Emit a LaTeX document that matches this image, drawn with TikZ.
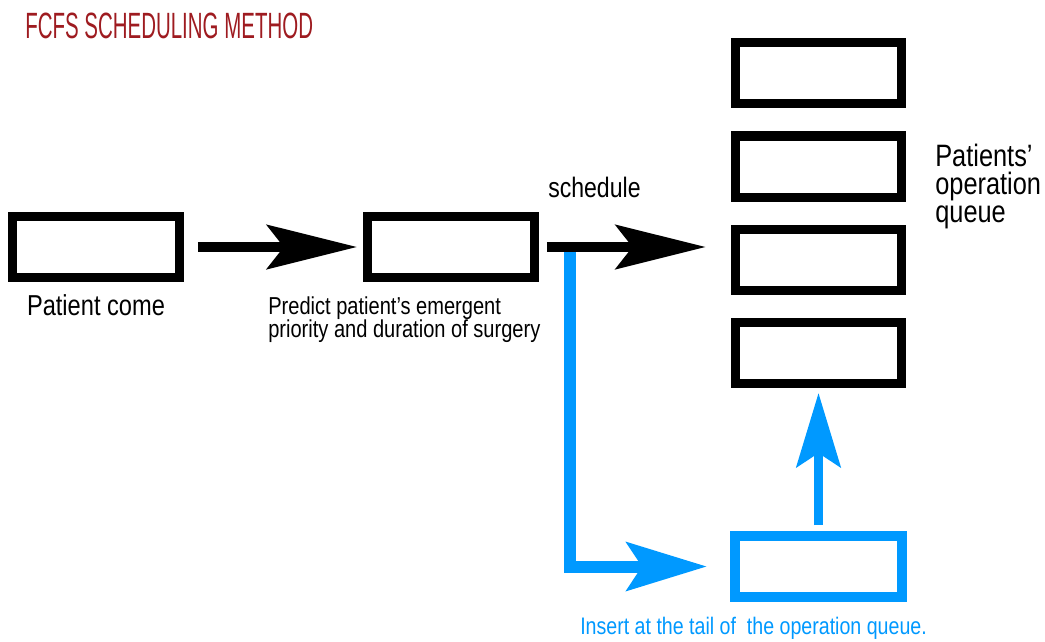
\documentclass[tikz,border=0pt]{standalone}
\usepackage{fontspec}
\setmainfont{Liberation Sans}[FakeStretch=0.82]
\newfontfamily\titlefont{Liberation Sans}[FakeStretch=0.56]
\usetikzlibrary{arrows.meta,positioning}
\definecolor{titlered}{RGB}{158,27,32}
\definecolor{qblue}{RGB}{0,153,255}
\tikzset{
	qbox/.style={draw, line width=0.225cm, minimum width=4.15cm, minimum height=1.525cm, inner sep=0pt},
	blackarrow/.style={line width=0.25cm, -{Stealth[length=2.25cm,width=1.1cm,inset=0.42cm]}},
	bluearrow/.style={qblue, line width=0.3cm, -{Stealth[length=2cm,width=1.2cm,inset=0.38cm]}}
}
\begin{document}
\begin{tikzpicture}[x=0.025cm, y=-0.025cm]
			\useasboundingbox (0,0) rectangle (1045,641);
			\node[anchor=west, inner sep=0pt, text=titlered, font=\titlefont\fontsize{26}{28}\selectfont] (title) at (25,26) {FCFS SCHEDULING METHOD};
			\node[qbox] (arrive) at (96,247) {};
			\node[qbox] (predict) at (451,247) {};
			\foreach \i/\y in {1/73,2/166.5,3/259.5,4/353}
			\node[qbox] (q\i) at (818.5,\y) {};
			\node[qbox, draw=qblue, line width=0.25cm] (tail) at (818.5,566.5) {};
			\node[below=0.32cm of arrive, inner sep=0pt, font=\fontsize{20.5}{24}\selectfont] (arrivetext) {Patient come};
			\node[anchor=north west, inner sep=0pt, align=left, font=\fontsize{17.4}{16.5}\selectfont] (predicttext) at (268,296) {Predict patient's emergent\\priority and duration of surgery};
			\node[anchor=base west, inner sep=0pt, font=\fontsize{20}{24}\selectfont] (schedtext) at (548,197) {schedule};
			\node[anchor=north west, inner sep=0pt, align=left, font=\fontsize{22}{20}\selectfont] (queuetext) at (935,144) {Patients'\\operation\\queue};
			\node[anchor=north west, inner sep=0pt, text=qblue, font=\fontsize{17}{20}\selectfont] (tailtext) at (580,617) {Insert at the tail of\ \ the operation queue.};
			\coordinate (split) at (570,249);
			\draw[bluearrow, shorten >=0.59cm] (split) |- (tail.west);
			\draw[bluearrow, line width=0.225cm, -{Stealth[length=1.85cm,width=1.1cm,inset=0.35cm]}, shorten <=0.15cm, shorten >=0.125cm] (tail) -- (q4);
			\draw[blackarrow, shorten <=0.36cm, shorten >=0.16cm] (arrive) -- (predict);
			\draw[blackarrow, shorten <=0.21cm, shorten >=0.63cm] (predict.east) -- (predict.east -| q3.west);
\end{tikzpicture}
\end{document}
